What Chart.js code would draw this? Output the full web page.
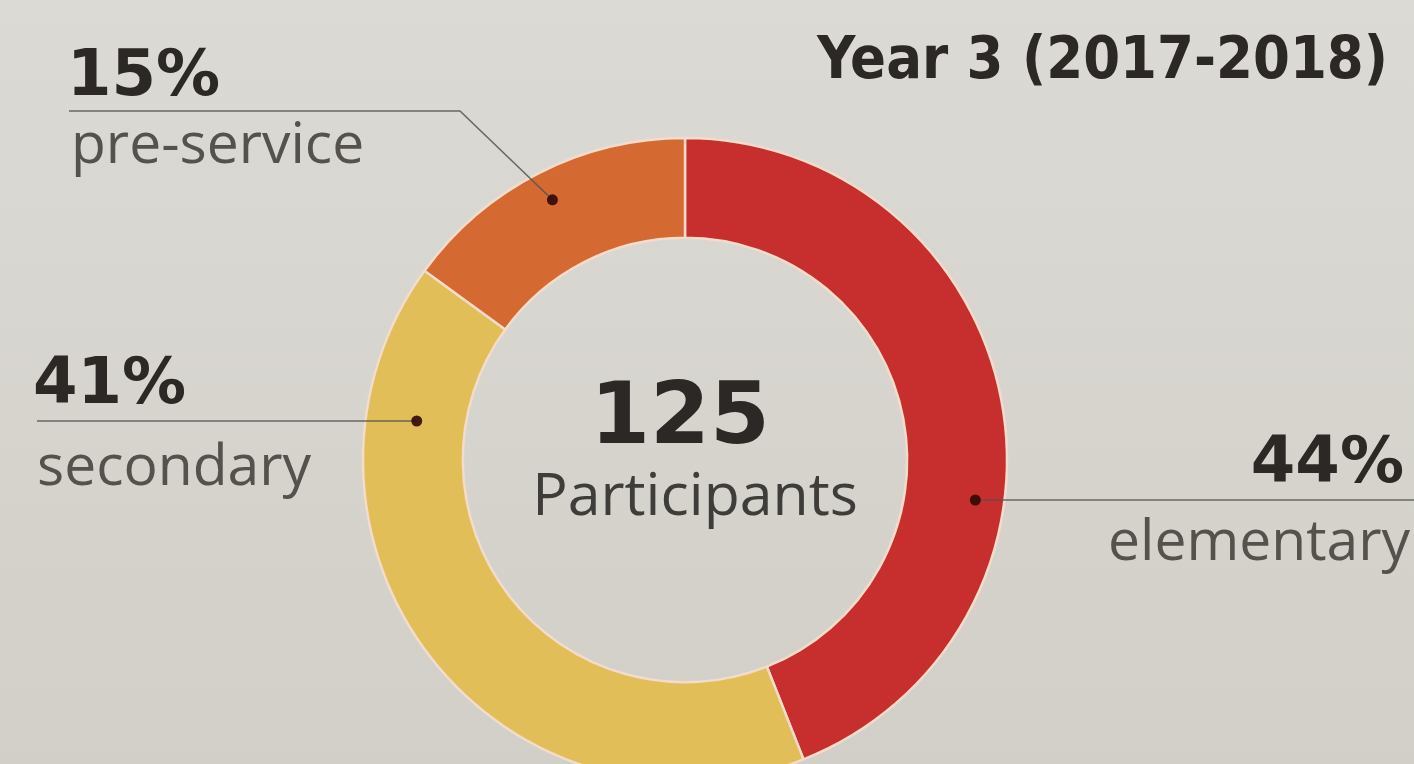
<!DOCTYPE html>
<html>
<head>
<meta charset="utf-8">
<title>Year 3 (2017-2018)</title>
<script src="https://cdn.jsdelivr.net/npm/chart.js@4.4.1/dist/chart.umd.min.js"></script>
<style>
  html, body { margin: 0; padding: 0; overflow: hidden; }
  body { width: 1414px; height: 764px; background: linear-gradient(#dcdad4, #d1cfc8); }
  #wrap { position: absolute; left: 0; top: 0; width: 1414px; height: 920px; }
</style>
</head>
<body>
<div id="wrap"><canvas id="participantsChart"></canvas></div>
<script>
// Year 3 participants by group
const categories = ['elementary', 'secondary', 'pre-service'];
const shares = [44, 41, 15];
const totalParticipants = 125;
const centerCaption = 'Participants';
const chartTitle = 'Year 3 (2017-2018)';

const sliceColors = ['#c62f2e', '#e2be58', '#d46a32'];

// where each callout sits, same order as categories
const callouts = [
    { align: 'right', textX: 1404, pctY: 482, lineY: 500, labelY: 560, lineX: 1414, depth: 0.71 },
    { align: 'left', textX: 33, pctY: 403, lineY: 421, labelY: 485, lineX: 37, depth: 0.49 },
    { align: 'left', textX: 67, pctY: 95, lineY: 111, labelY: 163, lineX: 69, kneeX: 460, depth: 0.7 }
];

// draws title, center text and the leader-line labels
const calloutPlugin = {
    id: 'callouts',
    afterDatasetsDraw(chart) {
        const ctx = chart.ctx;
        const arcs = chart.getDatasetMeta(0).data;
        const cx = arcs[0].x;
        const cy = arcs[0].y;

        ctx.save();
        ctx.textBaseline = 'alphabetic';

        // title
        ctx.fillStyle = '#2b2825';
        ctx.textAlign = 'right';
        ctx.font = 'bold 59px "DejaVu Sans Condensed", "DejaVu Sans"';
        ctx.fillText(chartTitle, 1388, 78);

        // center
        ctx.textAlign = 'center';
        ctx.font = 'bold 86px "DejaVu Sans"';
        ctx.fillText(String(totalParticipants), cx - 5, 443);
        ctx.fillStyle = '#3f3d3a';
        ctx.font = '59px "Open Sans"';
        ctx.fillText(centerCaption, cx + 10, 515);

        arcs.forEach((arc, i) => {
            const c = callouts[i];
            const r = arc.innerRadius + c.depth * (arc.outerRadius - arc.innerRadius);
            let dot;
            if (c.kneeX !== undefined) {
                const mid = (arc.startAngle + arc.endAngle) / 2;
                dot = { x: cx + Math.cos(mid) * r, y: cy + Math.sin(mid) * r };
            } else {
                const dy = c.lineY - cy;
                const dx = Math.sqrt(Math.max(r * r - dy * dy, 0));
                dot = { x: c.align === 'left' ? cx - dx : cx + dx, y: c.lineY };
            }

            // leader line
            ctx.strokeStyle = 'rgba(85,83,80,0.85)';
            ctx.lineWidth = 1.6;
            ctx.beginPath();
            ctx.moveTo(c.lineX, c.lineY);
            if (c.kneeX !== undefined) ctx.lineTo(c.kneeX, c.lineY);
            ctx.lineTo(dot.x, dot.y);
            ctx.stroke();

            ctx.fillStyle = 'rgba(50,8,4,0.9)';
            ctx.beginPath();
            ctx.arc(dot.x, dot.y, 5.5, 0, Math.PI * 2);
            ctx.fill();

            // texts
            ctx.textAlign = c.align;
            ctx.fillStyle = '#2b2825';
            ctx.font = 'bold 64px "DejaVu Sans"';
            ctx.fillText(shares[i] + '%', c.textX, c.pctY);
            ctx.fillStyle = '#55524e';
            ctx.font = '57px "Open Sans"';
            ctx.fillText(categories[i], c.textX + (c.align === 'left' ? 4 : 6), c.labelY);
        });
        ctx.restore();
    }
};

const ctxParticipants = document.getElementById('participantsChart').getContext('2d');
const participantsChart = new Chart(ctxParticipants, {
    type: 'doughnut',
    data: {
        labels: categories,
        datasets: [{
            data: shares,
            backgroundColor: sliceColors,
            borderColor: '#f3dccb',
            borderWidth: 2.5
        }]
    },
    options: {
        responsive: true,
        maintainAspectRatio: false,
        animation: false,
        radius: 322,
        cutout: '69%',
        layout: { padding: { left: 0, right: 44, top: 0, bottom: 0 } },
        events: [],
        plugins: {
            legend: { display: false },
            tooltip: { enabled: false }
        }
    },
    plugins: [calloutPlugin]
});
</script>
</body>
</html>
